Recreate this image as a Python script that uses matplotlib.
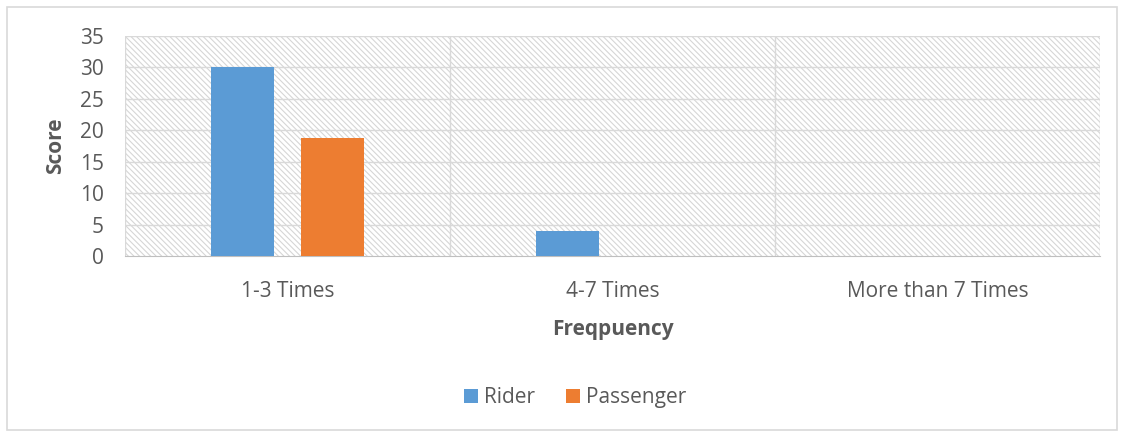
import matplotlib.pyplot as plt
from matplotlib.patches import Rectangle
import numpy as np

plt.rcParams['font.family'] = ['Open Sans', 'DejaVu Sans']
plt.rcParams['hatch.linewidth'] = 0.8

categories = ['1-3 Times', '4-7 Times', 'More than 7 Times']
rider = [30, 4, 0]
passenger = [18.8, 0, 0]

grey = '#595959'
gridc = '#d9d9d9'

fig = plt.figure(figsize=(11.24, 4.34), dpi=100)
ax = fig.add_axes([0.111, 0.41, 0.868, 0.507])

# outer chart border
fig.patches.append(Rectangle((0.006, 0.01), 0.988, 0.975, transform=fig.transFigure,
                             fill=False, edgecolor='#d9d9d9', linewidth=1.2))

x = np.arange(len(categories))
w = 0.194
ax.set_xlim(-0.5, len(categories) - 0.5)
ax.set_ylim(0, 35)

# hatched plot area
ax.add_patch(Rectangle((-0.5, 0), len(categories), 35, facecolor='white',
                       edgecolor='#d6d6d6', hatch='\\\\\\\\\\\\', linewidth=0, zorder=0))

for yv in range(5, 40, 5):
    ax.axhline(yv, color=gridc, linewidth=1, zorder=1)
for xv in np.arange(-0.5, len(categories), 1.0):
    ax.axvline(xv, color=gridc, linewidth=1, zorder=1)

ax.bar(x - 0.138, rider, w, color='#5b9bd5', label='Rider', zorder=3)
ax.bar(x + 0.138, passenger, w, color='#ed7d31', label='Passenger', zorder=3)

for s in ['top', 'right', 'left']:
    ax.spines[s].set_visible(False)
ax.spines['bottom'].set_color('#bfbfbf')

ax.set_xticks(x)
ax.set_xticklabels(categories)
ax.set_yticks(range(0, 40, 5))
ax.tick_params(axis='both', length=0, labelsize=15, colors=grey)
ax.tick_params(axis='x', pad=18)
ax.tick_params(axis='y', pad=15)

ax.set_xlabel('Freqpuency', fontsize=15, fontweight='bold', color=grey, labelpad=12)
ax.set_ylabel('Score', fontsize=15, fontweight='bold', color=grey, labelpad=10)

fig.legend(loc='center', bbox_to_anchor=(0.512, 0.084), ncol=2, frameon=False,
           fontsize=15, labelcolor=grey, handlelength=0.65, handleheight=0.65,
           handletextpad=0.3, columnspacing=1.5)

fig.savefig('out.png', dpi=100)
